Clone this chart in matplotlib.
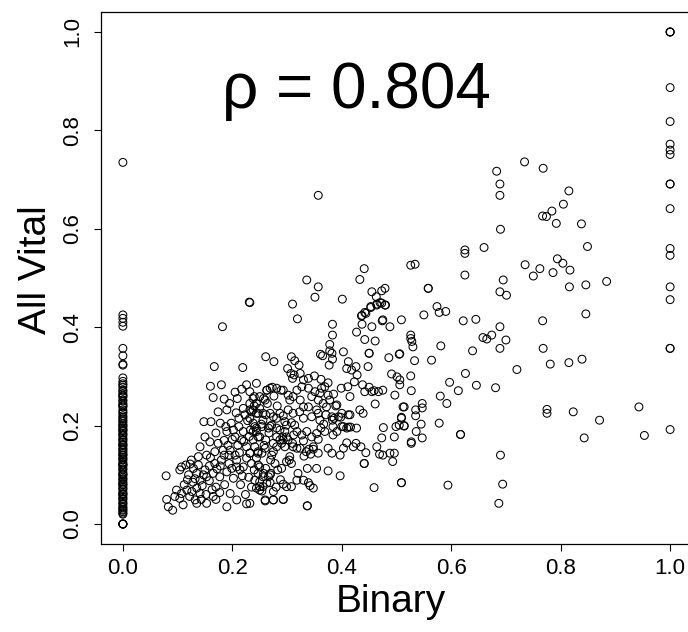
import matplotlib
matplotlib.use("Agg")
import matplotlib.pyplot as plt

# points sitting on the x = 0 line (Binary == 0)
zero_binary_vital = [0.0, 0.0, 0.0, 0.0, 0.735, 0.425, 0.418, 0.41, 0.402, 0.357, 0.342,
                     0.325, 0.323, 0.297, 0.29, 0.285, 0.278, 0.27, 0.265, 0.258, 0.25,
                     0.245, 0.238, 0.232, 0.225, 0.22, 0.214, 0.208, 0.2, 0.196, 0.19,
                     0.185, 0.18, 0.175, 0.17, 0.166, 0.16, 0.155, 0.15, 0.146, 0.14,
                     0.135, 0.13, 0.125, 0.12, 0.116, 0.11, 0.105, 0.1, 0.095, 0.09,
                     0.086, 0.08, 0.075, 0.07, 0.065, 0.06, 0.055, 0.05, 0.045, 0.04,
                     0.035, 0.03, 0.025, 0.022, 0.02, 0.19, 0.2, 0.21, 0.12, 0.14, 0.16,
                     0.1, 0.08, 0.06, 0.24, 0.26, 0.282, 0.272, 0.262, 0.252, 0.242,
                     0.228, 0.217, 0.204, 0.193, 0.182, 0.172, 0.162, 0.152, 0.143,
                     0.132, 0.122, 0.112, 0.102, 0.092, 0.083, 0.072, 0.062, 0.052,
                     0.042, 0.033, 0.028, 0.0]

# points sitting on the x = 1 line (Binary == 1)
one_binary_vital = [1.0, 1.0, 1.0, 0.887, 0.818, 0.772, 0.760, 0.751, 0.691, 0.691, 0.641,
                    0.560, 0.546, 0.482, 0.456, 0.357, 0.357, 0.192]

# dense cloud, low binary values
cloud_low = [
    (0.160, 0.280), (0.180, 0.283), (0.165, 0.257), (0.185, 0.254), (0.209, 0.255),
    (0.217, 0.274), (0.226, 0.283), (0.244, 0.286), (0.232, 0.269), (0.240, 0.259),
    (0.257, 0.255), (0.263, 0.272), (0.273, 0.278), (0.289, 0.272),
    (0.148, 0.208), (0.161, 0.208), (0.174, 0.228), (0.190, 0.232), (0.207, 0.226),
    (0.220, 0.235), (0.235, 0.228), (0.247, 0.225), (0.261, 0.222), (0.275, 0.218),
    (0.287, 0.225), (0.302, 0.232),
    (0.188, 0.198), (0.202, 0.191), (0.220, 0.188), (0.190, 0.188), (0.205, 0.177),
    (0.217, 0.171), (0.233, 0.191), (0.244, 0.195), (0.253, 0.203), (0.269, 0.199),
    (0.281, 0.195), (0.296, 0.188), (0.312, 0.181), (0.302, 0.171), (0.287, 0.171),
    (0.275, 0.164), (0.261, 0.171), (0.247, 0.177),
    (0.150, 0.177), (0.141, 0.157), (0.159, 0.167), (0.174, 0.164), (0.138, 0.137),
    (0.168, 0.147), (0.153, 0.140), (0.168, 0.123), (0.180, 0.130), (0.194, 0.123),
    (0.208, 0.130), (0.226, 0.157), (0.232, 0.144), (0.247, 0.144), (0.226, 0.134),
    (0.220, 0.116),
    (0.107, 0.116), (0.115, 0.120), (0.123, 0.122), (0.129, 0.113), (0.104, 0.110),
    (0.079, 0.098), (0.135, 0.103), (0.141, 0.089), (0.153, 0.096), (0.165, 0.103),
    (0.177, 0.096), (0.190, 0.106), (0.199, 0.113), (0.208, 0.116), (0.214, 0.110),
    (0.202, 0.093),
    (0.098, 0.069), (0.107, 0.062), (0.117, 0.069), (0.126, 0.066), (0.135, 0.073),
    (0.141, 0.062), (0.095, 0.056), (0.104, 0.052), (0.122, 0.056), (0.132, 0.049),
    (0.080, 0.050), (0.083, 0.035), (0.091, 0.028), (0.110, 0.039), (0.135, 0.042),
    (0.153, 0.042), (0.165, 0.056), (0.177, 0.064), (0.196, 0.062), (0.190, 0.035),
    (0.208, 0.049), (0.226, 0.041), (0.250, 0.069), (0.260, 0.049), (0.275, 0.049),
    (0.293, 0.050), (0.256, 0.076), (0.269, 0.100),
    (0.167, 0.320), (0.219, 0.318), (0.182, 0.401), (0.232, 0.450),
    (0.112, 0.080), (0.118, 0.090), (0.128, 0.085), (0.145, 0.078), (0.150, 0.110),
    (0.158, 0.118), (0.172, 0.112), (0.185, 0.140), (0.196, 0.150), (0.210, 0.160),
    (0.185, 0.170), (0.198, 0.205), (0.212, 0.215), (0.228, 0.210), (0.240, 0.240),
    (0.120, 0.100), (0.138, 0.120), (0.160, 0.135), (0.170, 0.185), (0.205, 0.140),
    (0.215, 0.080), (0.230, 0.095), (0.240, 0.110), (0.186, 0.080), (0.170, 0.075),
    (0.125, 0.130), (0.132, 0.092), (0.147, 0.100), (0.158, 0.088), (0.163, 0.070),
    (0.178, 0.118), (0.183, 0.150), (0.192, 0.160), (0.200, 0.172), (0.212, 0.198),
    (0.223, 0.222), (0.231, 0.178), (0.238, 0.188), (0.213, 0.145), (0.221, 0.168),
    (0.194, 0.140), (0.178, 0.205), (0.195, 0.245), (0.205, 0.268), (0.250, 0.235),
    (0.264, 0.245), (0.276, 0.260), (0.282, 0.240), (0.267, 0.185), (0.258, 0.160),
    (0.272, 0.140), (0.283, 0.110), (0.288, 0.090), (0.280, 0.075), (0.224, 0.060),
    (0.235, 0.075), (0.218, 0.098), (0.152, 0.060), (0.143, 0.050), (0.170, 0.050),
]

# cloud around binary 0.23 - 0.45
cloud_mid = [
    (0.232, 0.232), (0.244, 0.225), (0.256, 0.211), (0.238, 0.205), (0.250, 0.177),
    (0.238, 0.171), (0.241, 0.157), (0.247, 0.147), (0.232, 0.144), (0.244, 0.134),
    (0.235, 0.123), (0.247, 0.120), (0.247, 0.103), (0.256, 0.096), (0.250, 0.086),
    (0.263, 0.083), (0.244, 0.073), (0.241, 0.089), (0.232, 0.042),
    (0.275, 0.049), (0.260, 0.047), (0.275, 0.066), (0.269, 0.084), (0.250, 0.076),
    (0.254, 0.067), (0.266, 0.096), (0.257, 0.103), (0.270, 0.103),
    (0.305, 0.137), (0.304, 0.130), (0.299, 0.127), (0.308, 0.123), (0.290, 0.113),
    (0.270, 0.130), (0.278, 0.123), (0.261, 0.113), (0.250, 0.116),
    (0.281, 0.157), (0.290, 0.164), (0.292, 0.177), (0.299, 0.177), (0.310, 0.164),
    (0.311, 0.157), (0.296, 0.157), (0.275, 0.147), (0.260, 0.154), (0.254, 0.144),
    (0.296, 0.208), (0.299, 0.201), (0.308, 0.206), (0.314, 0.201), (0.287, 0.191),
    (0.272, 0.201), (0.266, 0.195), (0.254, 0.198), (0.241, 0.198), (0.244, 0.188),
    (0.256, 0.225), (0.238, 0.232), (0.232, 0.215), (0.244, 0.245), (0.269, 0.225),
    (0.281, 0.215), (0.293, 0.220), (0.311, 0.225), (0.323, 0.228), (0.330, 0.238),
    (0.339, 0.238), (0.345, 0.218), (0.330, 0.215), (0.318, 0.188), (0.327, 0.181),
    (0.336, 0.188),
    (0.263, 0.272), (0.269, 0.276), (0.281, 0.276), (0.293, 0.272), (0.250, 0.259),
    (0.260, 0.252), (0.238, 0.255), (0.232, 0.245),
    (0.302, 0.262), (0.311, 0.259), (0.305, 0.252), (0.324, 0.252), (0.318, 0.272),
    (0.327, 0.279), (0.339, 0.276), (0.351, 0.269), (0.363, 0.276), (0.360, 0.266),
    (0.375, 0.262), (0.385, 0.264),
    (0.293, 0.171), (0.281, 0.177),
    (0.357, 0.252), (0.366, 0.245), (0.345, 0.259), (0.354, 0.232), (0.372, 0.238),
    (0.378, 0.252), (0.391, 0.242), (0.400, 0.225), (0.412, 0.222),
    (0.261, 0.340), (0.276, 0.330), (0.308, 0.340), (0.314, 0.332), (0.322, 0.323),
    (0.301, 0.316), (0.307, 0.306), (0.313, 0.303), (0.324, 0.306), (0.310, 0.296),
    (0.330, 0.293), (0.339, 0.296), (0.350, 0.301), (0.362, 0.294), (0.375, 0.287),
    (0.369, 0.279),
    (0.320, 0.103), (0.330, 0.089), (0.339, 0.084), (0.342, 0.078), (0.348, 0.073),
    (0.318, 0.089), (0.308, 0.076), (0.299, 0.076), (0.293, 0.081), (0.293, 0.050),
    (0.337, 0.037), (0.337, 0.037), (0.375, 0.108), (0.397, 0.098), (0.354, 0.113),
    (0.337, 0.113),
    (0.330, 0.169), (0.324, 0.154), (0.331, 0.138), (0.318, 0.154), (0.340, 0.152),
    (0.335, 0.147), (0.343, 0.142),
    (0.367, 0.203), (0.362, 0.195), (0.354, 0.184), (0.345, 0.177), (0.357, 0.172),
    (0.348, 0.157), (0.357, 0.144), (0.348, 0.152),
    (0.357, 0.225), (0.371, 0.222), (0.360, 0.211), (0.389, 0.240),
    (0.382, 0.218), (0.386, 0.215), (0.394, 0.218), (0.383, 0.211), (0.398, 0.217),
    (0.400, 0.198), (0.384, 0.181), (0.369, 0.188), (0.384, 0.198), (0.391, 0.188),
    (0.375, 0.154), (0.382, 0.144), (0.397, 0.140), (0.403, 0.154),
    (0.409, 0.195), (0.412, 0.197), (0.403, 0.198), (0.415, 0.222), (0.427, 0.195),
    (0.416, 0.197), (0.433, 0.232), (0.439, 0.225),
    (0.409, 0.165), (0.421, 0.157), (0.435, 0.157), (0.444, 0.145), (0.426, 0.164),
    (0.441, 0.123), (0.441, 0.123), (0.459, 0.074),
]

# upper part of the cloud, binary 0.3 - 0.55
cloud_high = [
    (0.310, 0.447), (0.319, 0.417), (0.357, 0.668), (0.231, 0.451),
    (0.336, 0.496), (0.357, 0.482), (0.351, 0.461), (0.401, 0.457), (0.441, 0.519),
    (0.433, 0.497), (0.455, 0.472), (0.463, 0.462), (0.473, 0.474), (0.479, 0.479),
    (0.470, 0.450), (0.464, 0.447), (0.453, 0.442), (0.479, 0.445), (0.442, 0.430),
    (0.437, 0.424), (0.475, 0.415),
    (0.436, 0.423), (0.444, 0.428), (0.453, 0.440), (0.464, 0.445), (0.473, 0.449),
    (0.480, 0.445), (0.383, 0.406), (0.437, 0.406), (0.455, 0.401), (0.474, 0.413),
    (0.488, 0.401),
    (0.383, 0.384), (0.427, 0.390), (0.442, 0.375), (0.461, 0.372), (0.378, 0.365),
    (0.361, 0.345), (0.365, 0.342), (0.378, 0.352), (0.382, 0.347), (0.403, 0.350),
    (0.377, 0.323), (0.383, 0.335), (0.412, 0.330), (0.409, 0.316), (0.418, 0.313),
    (0.426, 0.320), (0.428, 0.303), (0.450, 0.347), (0.450, 0.347), (0.448, 0.320),
    (0.486, 0.338), (0.505, 0.345),
    (0.399, 0.276), (0.411, 0.279), (0.423, 0.289), (0.438, 0.283), (0.450, 0.278),
    (0.459, 0.271), (0.467, 0.269), (0.475, 0.272), (0.415, 0.259), (0.442, 0.269),
    (0.455, 0.269), (0.461, 0.244), (0.497, 0.262), (0.501, 0.299), (0.491, 0.305),
    (0.512, 0.238),
    (0.476, 0.196), (0.473, 0.175), (0.496, 0.177), (0.499, 0.198), (0.505, 0.201),
    (0.509, 0.217), (0.514, 0.199),
    (0.464, 0.157), (0.469, 0.142), (0.475, 0.140), (0.488, 0.144), (0.496, 0.144),
    (0.493, 0.127),
]

# sparse points on the right half
spread_right = [
    (0.734, 0.736), (0.768, 0.723), (0.683, 0.717), (0.689, 0.691), (0.689, 0.668),
    (0.815, 0.677), (0.805, 0.650), (0.784, 0.636), (0.767, 0.626), (0.774, 0.625),
    (0.792, 0.611), (0.838, 0.610), (0.690, 0.599), (0.849, 0.564), (0.660, 0.562),
    (0.625, 0.557), (0.625, 0.550), (0.526, 0.526), (0.534, 0.528), (0.794, 0.539),
    (0.804, 0.530), (0.735, 0.527), (0.762, 0.519), (0.750, 0.504), (0.786, 0.511),
    (0.817, 0.516), (0.625, 0.506), (0.695, 0.496), (0.816, 0.482), (0.846, 0.486),
    (0.884, 0.493), (0.558, 0.479), (0.558, 0.479), (0.689, 0.472), (0.701, 0.465),
    (0.574, 0.442), (0.578, 0.430), (0.590, 0.432), (0.550, 0.425), (0.509, 0.415),
    (0.622, 0.413), (0.645, 0.416), (0.689, 0.401), (0.767, 0.413), (0.846, 0.427),
    (0.526, 0.384), (0.526, 0.377), (0.528, 0.371), (0.530, 0.360), (0.581, 0.362),
    (0.658, 0.379), (0.665, 0.376), (0.674, 0.384), (0.700, 0.374), (0.689, 0.357),
    (0.639, 0.352), (0.768, 0.357), (0.506, 0.346), (0.533, 0.332), (0.564, 0.333),
    (0.781, 0.325), (0.815, 0.328), (0.839, 0.335), (0.720, 0.314), (0.626, 0.306),
    (0.526, 0.301), (0.597, 0.288), (0.613, 0.271), (0.646, 0.282), (0.681, 0.277),
    (0.527, 0.271), (0.580, 0.260), (0.506, 0.293), (0.506, 0.283),
    (0.592, 0.245), (0.547, 0.245), (0.547, 0.236), (0.535, 0.232), (0.514, 0.238),
    (0.535, 0.220), (0.509, 0.215), (0.514, 0.200), (0.545, 0.203), (0.578, 0.205),
    (0.536, 0.188), (0.547, 0.175), (0.527, 0.167), (0.527, 0.164), (0.617, 0.182),
    (0.617, 0.182), (0.775, 0.233), (0.775, 0.225), (0.823, 0.228), (0.871, 0.211),
    (0.943, 0.238), (0.953, 0.180), (0.843, 0.175), (0.690, 0.140), (0.509, 0.084),
    (0.509, 0.084), (0.594, 0.079), (0.694, 0.081), (0.687, 0.042),
]

rho_text = "ρ = 0.804"
x_ticks = [0.0, 0.2, 0.4, 0.6, 0.8, 1.0]
y_ticks = [0.0, 0.2, 0.4, 0.6, 0.8, 1.0]

plt.rcParams["font.family"] = ["Liberation Sans", "DejaVu Sans"]

xs = [0.0] * len(zero_binary_vital) + [1.0] * len(one_binary_vital)
ys = list(zero_binary_vital) + list(one_binary_vital)
for group in (cloud_low, cloud_mid, cloud_high, spread_right):
    for px, py in group:
        xs.append(px)
        ys.append(py)

W, H = 688, 632
fig = plt.figure(figsize=(W / 100, H / 100), dpi=100)
ax = fig.add_axes([101 / W, 1 - 543.7 / H, 591 / W, 531.4 / H])

ax.scatter(xs, ys, s=32, facecolors="none", edgecolors="black", linewidths=0.75)

ax.set_xlim(-0.04, 1.04)
ax.set_ylim(-0.04, 1.04)
ax.set_xticks(x_ticks)
ax.set_yticks(y_ticks)
ax.set_xticklabels(["%.1f" % v for v in x_ticks], fontsize=16)
ax.set_yticklabels(["%.1f" % v for v in y_ticks], fontsize=16, rotation=90, va="center")
ax.tick_params(axis="x", length=5, width=0.8, pad=5)
ax.tick_params(axis="y", length=5, width=0.8, pad=8)
for sp in ax.spines.values():
    sp.set_linewidth(0.9)

fig.text(391 / W, 1 - 612 / H, "Binary", fontsize=28, ha="center", va="baseline")
fig.text(36 / W, 1 - 270 / H, "All Vital", fontsize=28, ha="center", va="center",
         rotation=90)
fig.text(222 / W, 1 - 108 / H, rho_text, fontsize=46, ha="left", va="baseline")

fig.savefig("out.png", dpi=100)
